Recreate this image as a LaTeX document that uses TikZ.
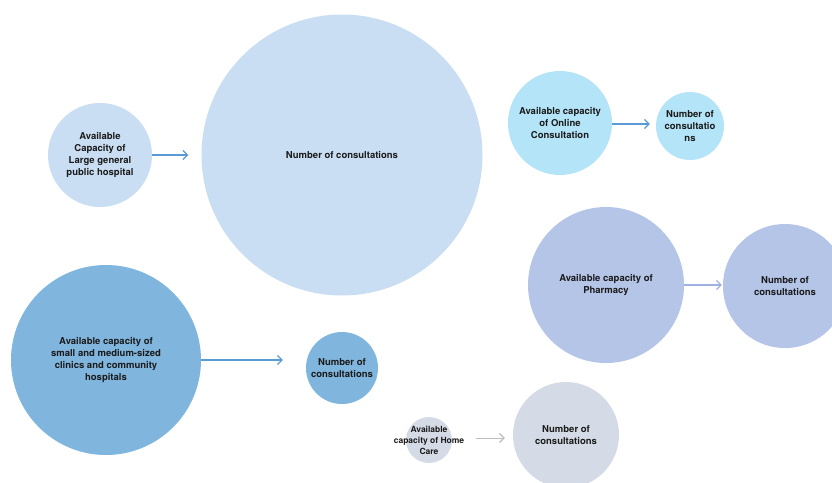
\documentclass[tikz,border=0pt]{standalone}
\usepackage{fontspec}
\setmainfont{TeX Gyre Heros}
\usetikzlibrary{arrows.meta}

\definecolor{paleblue}{HTML}{C9DEF2}
\definecolor{skyblue}{HTML}{B4E4F7}
\definecolor{lavender}{HTML}{B4C5E8}
\definecolor{midblue}{HTML}{80B5DD}
\definecolor{greyblue}{HTML}{D5DBE6}
\definecolor{inkdark}{HTML}{1A1A1A}
\definecolor{arrblue}{HTML}{5B9BD5}
\definecolor{arrlav}{HTML}{9DB2E0}
\definecolor{arrgrey}{HTML}{BDBDBD}

\tikzset{
  bubble/.style={circle, inner sep=0pt, align=center, text=inkdark,
    font=\fontsize{9.5}{12}\selectfont\bfseries},
  smalltext/.style={align=center, text=inkdark,
    font=\fontsize{8.5}{11}\selectfont\bfseries},
  arr/.style={line width=1.2pt, -{Straight Barb[length=4.5pt,width=9pt,line width=1.2pt]}},
}

\begin{document}
\begin{tikzpicture}[x=1pt, y=-1pt]
  \useasboundingbox (0,0) rectangle (832,482);
  \clip (0,0) rectangle (832,482);

  % large general public hospital
  \node[bubble, fill=paleblue, minimum size=104pt] (hosp) at (100,155)
    {Available\\Capacity of\\Large general\\public hospital};
  \node[bubble, fill=paleblue, minimum size=281pt] (hospN) at (342,155)
    {Number of consultations};

  % online consultation
  \node[bubble, fill=skyblue, minimum size=104pt] (online) at (560,123)
    {Available capacity\\of Online\\Consultation};
  \node[bubble, fill=skyblue, minimum size=68pt] (onlineN) at (690,126)
    {Number of\\consultatio\\ns};

  % pharmacy
  \node[bubble, fill=lavender, minimum size=156pt] (pharm) at (606,285)
    {Available capacity of\\Pharmacy};
  \node[bubble, fill=lavender, minimum size=124pt] (pharmN) at (785,286)
    {Number of\\consultations};

  % small and medium-sized clinics
  \node[bubble, fill=midblue, minimum size=190pt] (clinic) at (106,360)
    {Available capacity of\\small and medium-sized\\clinics and community\\hospitals};
  \node[bubble, fill=midblue, minimum size=72pt] (clinicN) at (342,368)
    {Number of\\consultations};

  % home care: the caption is wider than its small circle
  \node[bubble, fill=greyblue, minimum size=46pt,
        label={[smalltext]center:Available\\capacity of Home\\Care}] (home) at (429,440) {};
  \node[bubble, fill=greyblue, minimum size=106pt] (homeN) at (566,435)
    {Number of\\consultations};

  % connectors
  \draw[arr, arrblue, shorten >=13pt]
    (hosp.east) -- (hosp.east -| hospN.west);
  \draw[arr, arrblue, shorten >=6pt]
    ([yshift=-1pt]online.east) -- ([yshift=-1pt]online.east -| onlineN.west);
  \draw[arr, arrlav, shorten >=1pt]
    (pharm.east) -- (pharm.east -| pharmN.west);
  \draw[arr, arrblue, shorten >=23pt]
    (clinic.east) -- (clinic.east -| clinicN.west);
  \draw[arr, arrgrey, line width=1pt, shorten <=24pt, shorten >=8pt]
    ([yshift=2pt]home.east) -- ([yshift=2pt]home.east -| homeN.west);
\end{tikzpicture}
\end{document}
